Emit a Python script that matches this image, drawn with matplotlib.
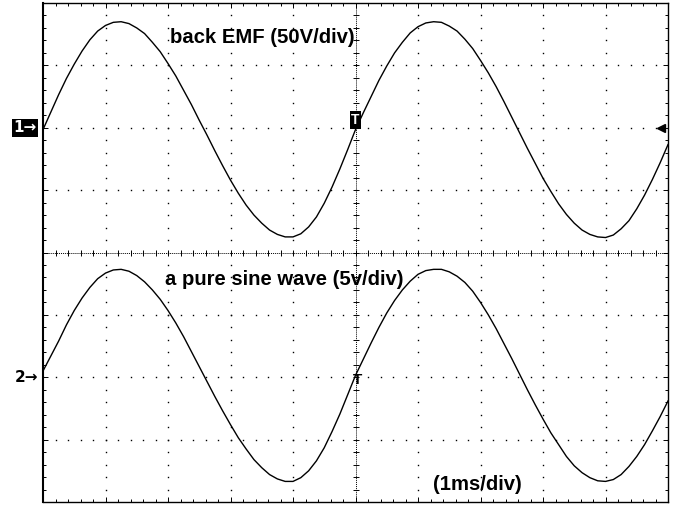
import numpy as np
import matplotlib

matplotlib.use("Agg")
import matplotlib.pyplot as plt

# screen is 10 x 8 divisions, time runs 0..10 div (1 ms/div)
# traces every 1/8 div, values in divisions
t_div = [
    0.0, 0.125, 0.25, 0.375, 0.5, 0.625, 0.75, 0.875,
    1.0, 1.125, 1.25, 1.375, 1.5, 1.625, 1.75, 1.875,
    2.0, 2.125, 2.25, 2.375, 2.5, 2.625, 2.75, 2.875,
    3.0, 3.125, 3.25, 3.375, 3.5, 3.625, 3.75, 3.875,
    4.0, 4.125, 4.25, 4.375, 4.5, 4.625, 4.75, 4.875,
    5.0, 5.125, 5.25, 5.375, 5.5, 5.625, 5.75, 5.875,
    6.0, 6.125, 6.25, 6.375, 6.5, 6.625, 6.75, 6.875,
    7.0, 7.125, 7.25, 7.375, 7.5, 7.625, 7.75, 7.875,
    8.0, 8.125, 8.25, 8.375, 8.5, 8.625, 8.75, 8.875,
    9.0, 9.125, 9.25, 9.375, 9.5, 9.625, 9.75, 9.875,
    10.0,
]

# channel 1: back EMF (50V/div)
ch1_div = [
    1.97, 2.25, 2.53, 2.79, 3.02, 3.23, 3.41, 3.55,
    3.64, 3.69, 3.70, 3.67, 3.60, 3.51, 3.37, 3.22,
    3.03, 2.83, 2.60, 2.37, 2.12, 1.88, 1.63, 1.39,
    1.16, 0.95, 0.76, 0.60, 0.47, 0.36, 0.29, 0.25,
    0.25, 0.30, 0.41, 0.57, 0.79, 1.05, 1.34, 1.65,
    1.97, 2.24, 2.50, 2.76, 2.99, 3.20, 3.37, 3.52,
    3.62, 3.68, 3.70, 3.69, 3.63, 3.55, 3.42, 3.27,
    3.08, 2.88, 2.66, 2.42, 2.17, 1.92, 1.67, 1.43,
    1.19, 0.98, 0.78, 0.61, 0.47, 0.36, 0.29, 0.25,
    0.24, 0.28, 0.38, 0.51, 0.70, 0.92, 1.17, 1.44,
    1.73,
]

# channel 2: pure sine wave (5v/div)
ch2_div = [
    -1.90, -1.66, -1.42, -1.16, -0.93, -0.73, -0.56, -0.42,
    -0.33, -0.28, -0.27, -0.30, -0.37, -0.47, -0.60, -0.75,
    -0.93, -1.13, -1.35, -1.59, -1.83, -2.07, -2.31, -2.54,
    -2.76, -2.97, -3.15, -3.32, -3.45, -3.56, -3.63, -3.67,
    -3.67, -3.61, -3.50, -3.34, -3.13, -2.87, -2.59, -2.28,
    -1.97, -1.71, -1.45, -1.20, -0.97, -0.77, -0.60, -0.46,
    -0.35, -0.29, -0.27, -0.27, -0.31, -0.38, -0.48, -0.62,
    -0.80, -1.00, -1.22, -1.46, -1.70, -1.95, -2.20, -2.44,
    -2.67, -2.89, -3.08, -3.27, -3.42, -3.53, -3.61, -3.66,
    -3.67, -3.64, -3.56, -3.43, -3.27, -3.08, -2.86, -2.63,
    -2.38,
]

ch1_ground = 2.0
ch2_ground = -2.0
trig_time = 5.0

ch1_label = "back EMF (50V/div)"
ch2_label = "a pure sine wave (5v/div)"
time_label = "(1ms/div)"

plt.rcParams["font.family"] = ["Liberation Sans", "DejaVu Sans"]

fig = plt.figure(figsize=(6.77, 5.08), dpi=100)
ax = fig.add_axes([43 / 677, 6 / 508, 625 / 677, 499 / 508])
ax.set_xlim(0, 10)
ax.set_ylim(-4, 4)

# dotted graticule, one dot every 0.2 div
xdots = np.arange(0, 10.001, 0.2)
ydots = np.arange(-4, 4.001, 0.2)
for gx in range(1, 10):
    if gx == 5:
        continue
    ax.plot(np.full_like(ydots, gx), ydots, ls="", marker="s", ms=1.0,
            mew=0, color="black")
for gy in range(-3, 4):
    if gy == 0:
        continue
    ax.plot(xdots, np.full_like(xdots, gy), ls="", marker="s", ms=1.0,
            mew=0, color="black")

# centre axes with small tick marks
ax.axhline(0, color="black", lw=0.7, ls=(0, (1, 1)))
ax.axvline(trig_time, color="black", lw=0.7, ls=(0, (1, 1)))
ax.plot(xdots, np.zeros_like(xdots), ls="", marker="|", ms=4.0, mew=0.7,
        color="black")
ax.plot(np.full_like(ydots, trig_time), ydots, ls="", marker="_", ms=4.0,
        mew=0.7, color="black")

# traces
ax.plot(t_div, ch1_div, color="black", lw=1.0)
ax.plot(t_div, ch2_div, color="black", lw=1.0)

# labels on the screen
ax.text(2.03, 3.45, ch1_label, fontsize=14.6, fontweight="bold", va="center")
ax.text(1.95, -0.43, ch2_label, fontsize=14.6, fontweight="bold", va="center")
ax.text(6.24, -3.72, time_label, fontsize=14.6, fontweight="bold", va="center")

# channel ground markers (left of the screen)
ax.text(-0.11, ch1_ground, "1\u2192", color="white", fontsize=11,
        family="DejaVu Sans", fontweight="bold", ha="right", va="center",
        clip_on=False,
        bbox=dict(facecolor="black", edgecolor="none", pad=1.0))
ax.text(-0.08, ch2_ground, "2\u2192", color="black", fontsize=11,
        family="DejaVu Sans", fontweight="bold", ha="right", va="center",
        clip_on=False)

# trigger markers
ax.text(trig_time, ch1_ground + 0.12, "T", color="white", fontsize=10,
        fontweight="bold", ha="center", va="center",
        bbox=dict(facecolor="black", edgecolor="none", pad=1.3))
ax.text(trig_time + 0.03, ch2_ground - 0.05, "T", color="black", fontsize=11,
        fontweight="bold", ha="center", va="center")
ax.plot([9.88], [ch1_ground], marker="<", ms=6, color="black", ls="")

# frame with inward ticks on every side
ax.set_xticks(np.arange(0, 11, 1))
ax.set_yticks(np.arange(-4, 5, 1))
ax.set_xticks(xdots, minor=True)
ax.set_yticks(ydots, minor=True)
ax.tick_params(which="both", direction="in", top=True, right=True,
               labelbottom=False, labelleft=False, color="black", width=0.7)
ax.tick_params(which="major", length=3.6)
ax.tick_params(which="minor", length=2.0)
for side in ["top", "right", "bottom"]:
    ax.spines[side].set_linewidth(1.0)
ax.spines["left"].set_linewidth(1.5)

fig.savefig("out.png", dpi=100)
